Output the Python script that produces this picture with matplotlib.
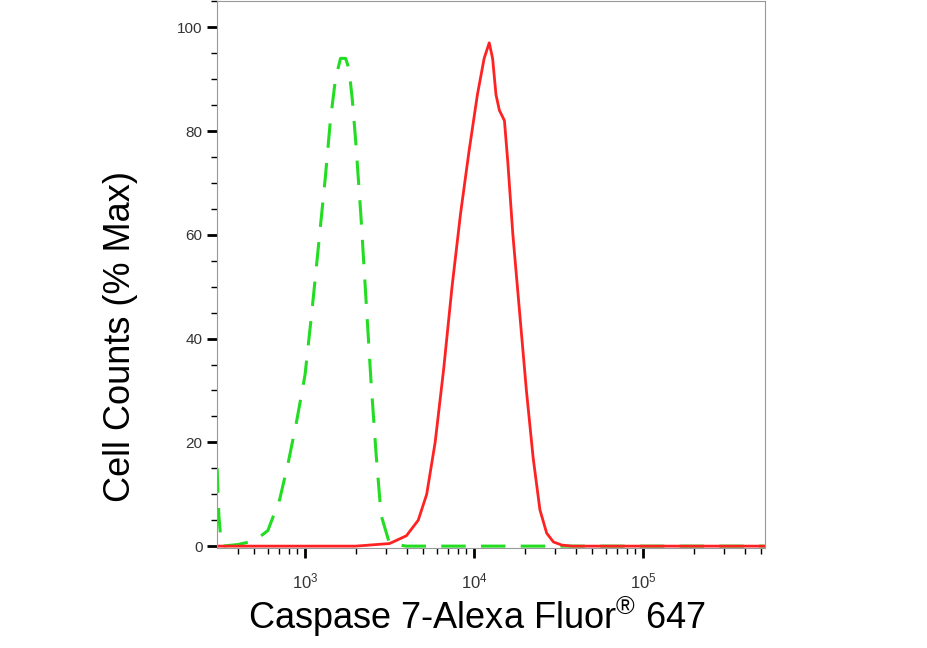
import numpy as np
import matplotlib
matplotlib.use("Agg")
import matplotlib.pyplot as plt
from matplotlib.ticker import LogLocator, NullFormatter, MultipleLocator

plt.rcParams['font.family'] = ['Liberation Sans', 'DejaVu Sans']
plt.rcParams['mathtext.fontset'] = 'custom'
plt.rcParams['mathtext.rm'] = 'Liberation Sans'

# Data (log10 intensity, % max)
green_logx = [2.48, 2.49, 2.50, 2.51, 2.60, 2.70, 2.78, 2.85, 2.90, 2.95, 3.00, 3.04, 3.08, 3.12, 3.15, 3.18, 3.21, 3.24, 3.26, 3.28, 3.30, 3.33, 3.36, 3.39, 3.42, 3.45, 3.50, 3.6, 4.0, 4.5, 5.0, 5.72]
green_y    = [15, 6, 2, 0, 0.3, 1, 3, 9, 16, 24, 33, 45, 58, 71, 82, 90, 94, 94, 92, 86, 78, 64, 48, 32, 18, 6, 0.5, 0, 0, 0, 0, 0]
red_logx = [2.48, 3.3, 3.50, 3.60, 3.67, 3.72, 3.77, 3.82, 3.87, 3.92, 3.97, 4.02, 4.06, 4.09, 4.11, 4.13, 4.15, 4.18, 4.20, 4.23, 4.27, 4.31, 4.35, 4.39, 4.43, 4.47, 4.52, 4.58, 5.0, 5.72]
red_y    = [0, 0, 0.5, 2, 5, 10, 20, 34, 50, 64, 76, 87, 94, 97, 94, 87, 84, 82, 74, 60, 45, 30, 17, 7, 2.5, 0.8, 0.2, 0, 0, 0]

fig = plt.figure(figsize=(9.28, 6.48), dpi=100)
ax = fig.add_axes([0.234, 0.154, 0.59, 0.844])
ax.plot(10**np.array(green_logx), green_y, color="#22dd22", lw=2.2, ls=(0, (8, 5)))
ax.plot(10**np.array(red_logx), red_y, color="#ff2222", lw=2)
ax.set_xscale("log")
ax.set_xlim(10**2.48, 10**5.72)
ax.set_ylim(-0.4, 105)
ax.yaxis.set_major_locator(MultipleLocator(20))
ax.yaxis.set_minor_locator(MultipleLocator(5))
ax.xaxis.set_major_locator(LogLocator(base=10, numticks=10))
ax.xaxis.set_minor_locator(LogLocator(base=10, subs=np.arange(2, 10), numticks=20))
ax.xaxis.set_minor_formatter(NullFormatter())
for s in ax.spines.values():
    s.set_color("#999999")
ax.tick_params(axis="both", which="major", length=7, width=2, color="black", labelsize=11, labelcolor="#333333")
ax.tick_params(axis="x", which="major", labelsize=12, pad=10)
ax.tick_params(axis="both", which="minor", length=4, width=1, color="black")
fig.text(120/928, 1-336/648, "Cell Counts (% Max)", fontsize=26, rotation=90, ha="center", va="center")
fig.text(477/928, 1-617/648, "Caspase 7-Alexa Fluor$^{®}$ 647", fontsize=26, ha="center", va="center")
fig.savefig("out.png", dpi=100)
